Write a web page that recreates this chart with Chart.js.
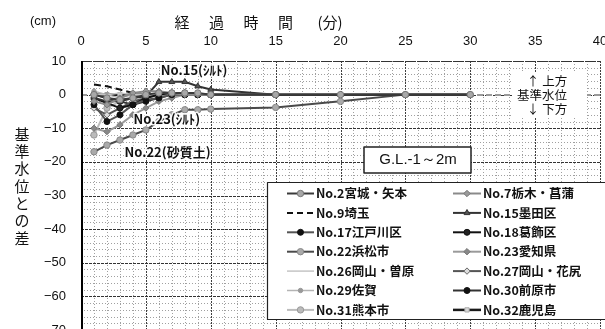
<!DOCTYPE html>
<html>
<head>
<meta charset="utf-8">
<script src="https://cdn.jsdelivr.net/npm/chart.js@4.4.1/dist/chart.umd.min.js"></script>
<style>
  html, body { margin: 0; padding: 0; background: #fff; overflow: hidden; }
  canvas { display: block; }
</style>
</head>
<body>
<canvas id="c" width="605" height="340"></canvas>
<script>
// elapsed time of each reading (minutes)
const TIMES = [1, 2, 3, 4, 5, 6, 7, 8, 9, 10, 15, 20, 25, 30];

// difference from the reference water level (cm), one list per site
const NO2  = [0, -1, -1.5, -1, 0, 0.5, 0.5, 0.5, 0.5, 0, 0, 0, 0, 0];
const NO7  = [-2, -3, -1, 0.5, 1, 1, 0.5, 0, 0, 0, 0, null, null, null];
const NO9  = [3, 2.5, 1.5, 0.5, null, null, null, null, null, null, null, null, null, null];
const NO15 = [-1, -2, -2, -1, -0.5, 3.8, 3.8, 3.8, 2.5, 1.5, 0, 0, 0, 0];
const NO17 = [-3, -8, -6, -3, -1.5, -1, 0, 0, 0, 0, null, null, null, null];
const NO18 = [-1, -2.5, -4, -3, -1, 0, 0.5, 0.5, 0, 0, 0, null, null, null];
const NO22 = [-17, -15, -13.5, -12, -10.5, -8, -6, -4.5, -4.5, -4.3, -3.8, -2, 0, 0];
const NO23 = [-10, -11, -9, -6, -4, -2, -1, 0, 0, 0, 0, null, null, null];
const NO26 = [0, 0, 0.5, 0, 0, 0, 0, 0, 0, 0, null, null, null, null];
const NO27 = [-4, -6, -4, -2, -1, 0, 0, 0, 0, 0, null, null, null, null];
const NO29 = [1, 0, -1, 0, 0, 0, 0, 0, 0, 0, null, null, null, null];
const NO30 = [0, -1, -2, -3, -2, -1, 0, 0, 0, 0, 0, null, null, null];
const NO31 = [-12, -4, -2, -1, 0, 0, 0, 0, 0, 0, null, null, null, null];
const NO32 = [0, 0, 0, 0, 0, 0, 0, 0, 0, 0, 0, 0, 0, 0];

const SITE_NAMES = [
  'No.2宮城・矢本', 'No.7栃木・菖蒲', 'No.9埼玉', 'No.15墨田区',
  'No.17江戸川区', 'No.18葛飾区', 'No.22浜松市', 'No.23愛知県',
  'No.26岡山・曽原', 'No.27岡山・花尻', 'No.29佐賀', 'No.30前原市',
  'No.31熊本市', 'No.32鹿児島'
];
const SITE_VALUES = [NO2, NO7, NO9, NO15, NO17, NO18, NO22, NO23, NO26, NO27, NO29, NO30, NO31, NO32];

const X_TICK_LABELS = [0, 5, 10, 15, 20, 25, 30, 35, 40];
const Y_TICK_LABELS = [10, 0, -10, -20, -30, -40, -50, -60, -70];

// soil notes written next to three of the curves: [text, minute, cm]
const NOTES = [
  ['No.15(ｼﾙﾄ)', 6.15, 7.2],
  ['No.23(ｼﾙﾄ)', 4.05, -7.2],
  ['No.22(砂質土)', 3.35, -17.1]
];

// line / marker look of each site (greyscale print)
const LOOKS = [
  { line: '#3a3a3a', w: 2,   dash: [],     pt: 'circle',  r: 3.2, fill: '#a8a8a8', edge: '#777' },
  { line: '#8a8a8a', w: 2,   dash: [],     pt: 'rectRot', r: 3.2, fill: '#9a9a9a', edge: '#777' },
  { line: '#111',    w: 2,   dash: [7, 4], pt: 'circle',  r: 0,   fill: '#111',    edge: '#111' },
  { line: '#333',    w: 2,   dash: [],     pt: 'triangle',r: 3.4, fill: '#555',    edge: '#333' },
  { line: '#555',    w: 2,   dash: [],     pt: 'circle',  r: 3,   fill: '#111',    edge: '#111' },
  { line: '#111',    w: 2,   dash: [],     pt: 'circle',  r: 3,   fill: '#222',    edge: '#111' },
  { line: '#4a4a4a', w: 2,   dash: [],     pt: 'circle',  r: 3.2, fill: '#aaa',    edge: '#888' },
  { line: '#9a9a9a', w: 2,   dash: [],     pt: 'rectRot', r: 3.2, fill: '#888',    edge: '#777' },
  { line: '#c4c4c4', w: 1.5, dash: [],     pt: 'circle',  r: 0,   fill: '#ccc',    edge: '#ccc' },
  { line: '#555',    w: 2,   dash: [],     pt: 'rectRot', r: 3.2, fill: '#ddd',    edge: '#666' },
  { line: '#b4b4b4', w: 1.5, dash: [],     pt: 'circle',  r: 2.2, fill: '#999',    edge: '#999' },
  { line: '#333',    w: 2,   dash: [],     pt: 'circle',  r: 3,   fill: '#111',    edge: '#111' },
  { line: '#bdbdbd', w: 2,   dash: [],     pt: 'circle',  r: 3.2, fill: '#bbb',    edge: '#999' },
  { line: '#1a1a1a', w: 2.5, dash: [],     pt: 'rect',    r: 3,   fill: '#d8d8d8', edge: '#aaa' }
];

const JP = '"Noto Sans CJK JP", "Noto Sans", sans-serif';
const NUM = '"Liberation Sans", Arial, sans-serif';

const datasets = SITE_NAMES.map((name, i) => {
  const lk = LOOKS[i];
  return {
    label: name,
    data: TIMES.map((t, k) => ({ x: t, y: SITE_VALUES[i][k] })),
    borderColor: lk.line,
    borderWidth: lk.w,
    borderDash: lk.dash,
    pointStyle: lk.pt,
    pointRadius: lk.r,
    pointBackgroundColor: lk.fill,
    pointBorderColor: lk.edge,
    pointBorderWidth: 1,
    tension: 0,
    spanGaps: false
  };
});

// dotted rule made of small filled cells: on/off lengths along the rule
function rule(ctx, vertical, pos, from, to, on, off, thick, color) {
  ctx.fillStyle = color;
  for (let s = from; s < to; s += on + off) {
    const len = Math.min(on, to - s);
    if (vertical) ctx.fillRect(pos, s, thick, len);
    else ctx.fillRect(s, pos, len, thick);
  }
}

// graph-paper grid, reference level and frame underneath the curves
const paperPlugin = {
  id: 'graphPaper',
  beforeDatasetsDraw(chart) {
    const { ctx, chartArea: a, scales: { x, y } } = chart;
    const L = Math.round(a.left), R = Math.round(a.right), T = Math.round(a.top), B = Math.round(a.bottom);
    ctx.save();
    for (let v = 1; v < 40; v++) {
      if (v % 5 === 0) continue;
      rule(ctx, true, Math.round(x.getPixelForValue(v)), T, B, 1, 2, 1, '#a0a0a0');
    }
    for (let v = -68; v < 10; v += 2) {
      if (v % 10 === 0) continue;
      rule(ctx, false, Math.round(y.getPixelForValue(v)), L, R, 1, 2, 1, '#a0a0a0');
    }
    X_TICK_LABELS.forEach(v => rule(ctx, true, Math.round(x.getPixelForValue(v)), T, B, 2, 1, 1, '#404040'));
    Y_TICK_LABELS.forEach(v => rule(ctx, false, Math.round(y.getPixelForValue(v)), L, R, 3, 1, 1, '#333'));
    // reference water level
    rule(ctx, false, Math.round(y.getPixelForValue(0)) - 1, L, R, 6, 3, 2, '#9a9a9a');
    // frame
    rule(ctx, false, T, L, R, 2, 1, 1, '#333');
    ctx.fillStyle = '#000';
    ctx.fillRect(L, T, 2, B - T);
    ctx.restore();
  }
};

// titles, notes and the boxed legend on top of the curves
const labelPlugin = {
  id: 'labelsAndLegend',
  afterDatasetsDraw(chart) {
    const { ctx, scales: { x, y } } = chart;
    ctx.save();
    ctx.fillStyle = '#111';
    ctx.textBaseline = 'middle';

    // unit and x title
    ctx.font = '13px ' + NUM;
    ctx.textAlign = 'center';
    ctx.fillText('(cm)', 43, 21);
    ctx.font = '15px ' + JP;
    ['経', '過', '時', '間'].forEach((ch, i) => ctx.fillText(ch, 182 + i * 34.5, 22));
    ctx.fillText('(分)', 330, 22);

    // y title, one character per line
    ['基', '準', '水', '位', 'と', 'の', '差'].forEach((ch, i) => ctx.fillText(ch, 22, 134 + i * 17.3));

    // soil notes with a white halo
    ctx.font = 'bold 13px ' + JP;
    ctx.textAlign = 'left';
    NOTES.forEach(([txt, t, v]) => {
      const px = x.getPixelForValue(t), py = y.getPixelForValue(v);
      ctx.strokeStyle = 'rgba(255,255,255,0.9)';
      ctx.lineWidth = 3;
      ctx.lineJoin = 'round';
      ctx.strokeText(txt, px, py);
      ctx.fillStyle = '#111';
      ctx.fillText(txt, px, py);
    });

    // up / down note on the reference level
    ctx.fillStyle = '#fff';
    ctx.fillRect(513, 73, 74, 44);
    ctx.fillStyle = '#111';
    ctx.font = '12.5px ' + JP;
    ctx.textAlign = 'center';
    ctx.fillText('↑ 上方', 547, 81);
    ctx.fillText('基準水位', 542, 95);
    ctx.fillText('↓ 下方', 547, 109);

    // depth box
    ctx.fillStyle = '#fff';
    ctx.fillRect(364, 147, 107, 26);
    ctx.strokeStyle = '#222';
    ctx.lineWidth = 1.5;
    ctx.strokeRect(364, 147, 107, 26);
    ctx.fillStyle = '#111';
    ctx.font = '15px ' + NUM;
    ctx.fillText('G.L.-1～2m', 418, 160);

    // legend box
    const bx = 267, by = 182, bw = 340, bh = 137;
    ctx.fillStyle = '#fff';
    ctx.fillRect(bx, by, bw, bh);
    ctx.strokeStyle = '#222';
    ctx.lineWidth = 1.2;
    ctx.strokeRect(bx + 0.5, by + 0.5, bw, bh);
    const cols = [{ lx: 287, lw: 27, tx: 316 }, { lx: 453, lw: 28, tx: 483 }];
    ctx.font = 'bold 12.5px ' + JP;
    ctx.textAlign = 'left';
    chart.data.datasets.forEach((ds, i) => {
      const c = cols[i % 2];
      const ry = 193.5 + Math.floor(i / 2) * 19.4;
      ctx.save();
      ctx.strokeStyle = ds.borderColor;
      ctx.lineWidth = ds.borderWidth;
      ctx.setLineDash(ds.borderDash.length ? [6, 4] : []);
      ctx.beginPath(); ctx.moveTo(c.lx, ry); ctx.lineTo(c.lx + c.lw, ry); ctx.stroke();
      ctx.setLineDash([]);
      if (ds.pointRadius > 0) {
        ctx.fillStyle = ds.pointBackgroundColor;
        ctx.strokeStyle = ds.pointBorderColor;
        ctx.lineWidth = 1;
        Chart.helpers.drawPoint(ctx, { pointStyle: ds.pointStyle, radius: ds.pointRadius, rotation: 0, borderWidth: 1 }, c.lx + c.lw / 2, ry);
      }
      ctx.restore();
      ctx.fillStyle = '#111';
      ctx.fillText(ds.label, c.tx, ry);
    });
    ctx.restore();
  }
};

new Chart(document.getElementById('c'), {
  type: 'line',
  data: { datasets },
  options: {
    responsive: false,
    animation: false,
    devicePixelRatio: 1,
    layout: { padding: { top: 0, right: 4, bottom: 10, left: 0 } },
    plugins: { legend: { display: false }, tooltip: { enabled: false } },
    scales: {
      x: {
        type: 'linear',
        position: 'top',
        min: 0, max: 40,
        grid: { display: false, drawTicks: false },
        border: { display: false },
        ticks: {
          stepSize: 5, autoSkip: false, maxRotation: 0, padding: 12,
          color: '#111', font: { family: NUM, size: 13 },
          callback: v => X_TICK_LABELS.includes(v) ? String(v) : ''
        },
        afterFit(s) { s.height = 61; s.paddingLeft = 0; s.paddingRight = 0; }
      },
      y: {
        type: 'linear',
        min: -70, max: 10,
        grid: { display: false, drawTicks: false },
        border: { display: false },
        ticks: {
          stepSize: 10, autoSkip: false, padding: 15,
          color: '#111', font: { family: NUM, size: 13 },
          callback: v => Y_TICK_LABELS.includes(v) ? String(v).replace('-', '\u2212') : ''
        },
        afterFit(s) { s.width = 81; s.paddingTop = 0; s.paddingBottom = 0; }
      }
    }
  },
  plugins: [paperPlugin, labelPlugin]
});
</script>
</body>
</html>
